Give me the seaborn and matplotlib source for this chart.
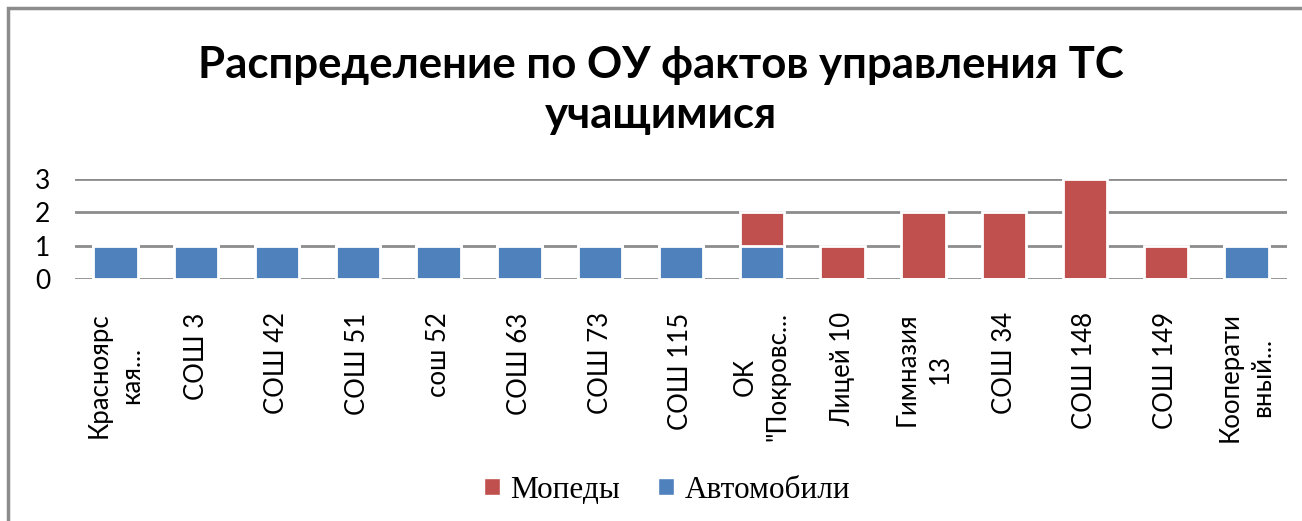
import matplotlib
matplotlib.use("Agg")
import matplotlib.pyplot as plt
import seaborn as sns
import pandas as pd
from matplotlib.patches import Rectangle, Patch

# ---- data ----
categories = ["Красноярс\nкая...", "СОШ 3", "СОШ 42", "СОШ 51", "сош 52", "СОШ 63",
              "СОШ 73", "СОШ 115", "ОК\n\"Покровс...", "Лицей 10", "Гимназия\n13",
              "СОШ 34", "СОШ 148", "СОШ 149", "Кооперати\nвный..."]
avtomobili = [1, 1, 1, 1, 1, 1, 1, 1, 1, 0, 0, 0, 0, 0, 1]
mopedy = [0, 0, 0, 0, 0, 0, 0, 0, 1, 1, 2, 2, 3, 1, 0]
yticks = [0, 1, 2, 3]
title = "Распределение по ОУ фактов управления ТС\nучащимися"
series_names = ["Мопеды", "Автомобили"]

RED = "#C0504D"
BLUE = "#4F81BD"

df = pd.DataFrame({"cat": categories, "auto": avtomobili, "moped": mopedy})
df["total"] = df["auto"] + df["moped"]

sns.set_theme(style="white")
plt.rcParams["font.family"] = ["Lato", "DejaVu Sans"]
plt.rcParams["text.color"] = "black"
plt.rcParams["xtick.color"] = "black"
plt.rcParams["ytick.color"] = "black"

fig = plt.figure(figsize=(13.02, 5.21), dpi=100)
W, H = 1302, 521
ax = fig.add_axes([75 / W, 1 - 279 / H, (1287 - 75) / W, (279 - 179) / H])

# gridlines
for y in yticks:
    ax.axhline(y, color="#8C8C8C", lw=2, zorder=0)

# stacked: total in red, autos in blue over it
sns.barplot(data=df, x="cat", y="total", color=RED, width=0.55, ax=ax,
            edgecolor="white", linewidth=2, saturation=1, zorder=2)
sns.barplot(data=df, x="cat", y="auto", color=BLUE, width=0.55, ax=ax,
            edgecolor="white", linewidth=2, saturation=1, zorder=3)
for p in ax.patches:
    p.set_clip_on(False)

ax.set_ylim(0, 3)
ax.set_xlim(-0.5, len(categories) - 0.5)
ax.set_yticks(yticks)
ax.set_yticklabels([str(v) for v in yticks], fontsize=19)
ax.set_xlabel("")
ax.set_ylabel("")
ax.set_xticks(range(len(categories)))
ax.set_xticklabels(categories, rotation=90, va="top", ha="center",
                   multialignment="center", fontsize=18.5, linespacing=1.4)
ax.tick_params(axis="x", length=0, pad=24)
ax.tick_params(axis="y", length=0, pad=18)
for s in ax.spines.values():
    s.set_visible(False)

# title
fig.text(661 / W, 1 - 90 / H, title, ha="center", va="center", fontsize=31.5,
         fontweight="bold", linespacing=1.3, color="black")

# legend
handles = [Patch(facecolor=RED, edgecolor="white"), Patch(facecolor=BLUE, edgecolor="white")]
fig.legend(handles, series_names, loc="center", bbox_to_anchor=(667 / W, 1 - 490 / H),
           ncol=2, frameon=False, handlelength=0.5, handleheight=0.5,
           handletextpad=0.35, columnspacing=1.2,
           prop={"family": "Liberation Serif", "size": 22.5})

# chart frame
fig.patches.append(Rectangle((8 / W, -0.2), 1.2, 1.2 - 8 / H,
                             transform=fig.transFigure, fill=False,
                             edgecolor="#8C8C8C", lw=2.5))

fig.savefig("out.png", dpi=100)
